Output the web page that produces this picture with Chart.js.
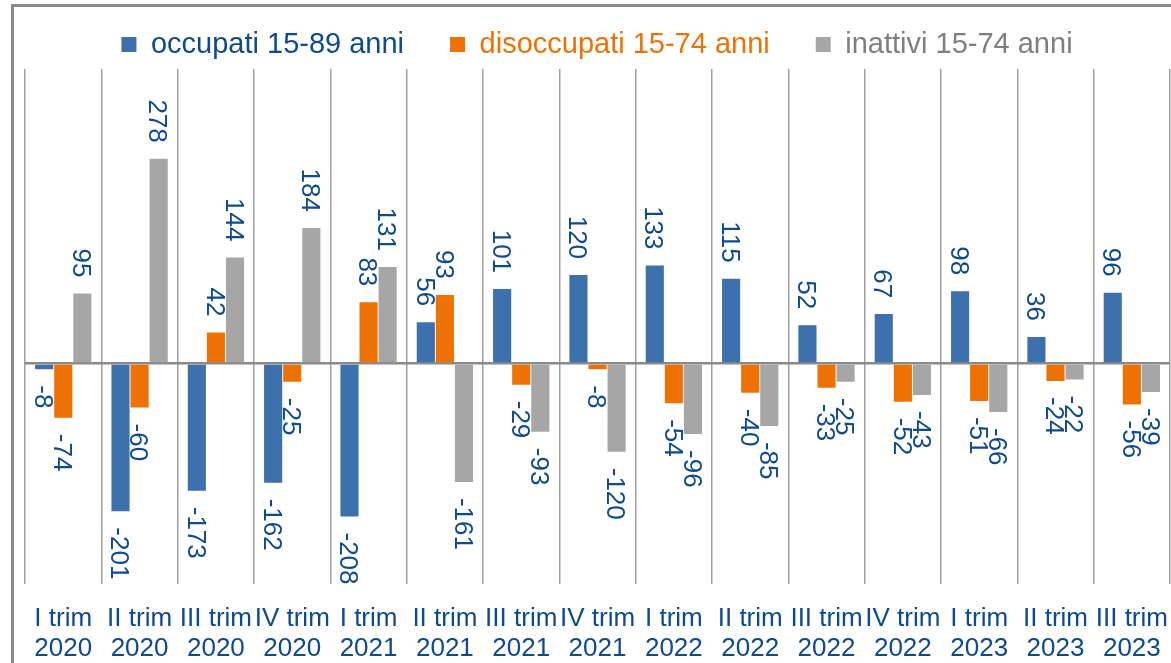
<!DOCTYPE html>
<html>
<head>
<meta charset="utf-8">
<script src="https://cdn.jsdelivr.net/npm/chart.js@4.4.1/dist/chart.umd.min.js"></script>
<style>
  html, body { margin: 0; padding: 0; background: #fff; overflow: hidden; }
  #frame {
    position: absolute; left: 11px; top: 4px;
    width: 1182px; height: 680px;
    border: 3px solid #8a8a8a; background: #fff;
  }
  #chart { display: block; }
</style>
</head>
<body>
<div id="frame"><canvas id="chart" width="1182" height="680"></canvas></div>
<script>
// Categories (quarters)
const categories = [
  ["I trim", "2020"], ["II trim", "2020"], ["III trim", "2020"], ["IV trim", "2020"],
  ["I trim", "2021"], ["II trim", "2021"], ["III trim", "2021"], ["IV trim", "2021"],
  ["I trim", "2022"], ["II trim", "2022"], ["III trim", "2022"], ["IV trim", "2022"],
  ["I trim", "2023"], ["II trim", "2023"], ["III trim", "2023"]
];

// Series values (thousands)
const occupati = [-8, -201, -173, -162, -208, 56, 101, 120, 133, 115, 52, 67, 98, 36, 96];
const disoccupati = [-74, -60, 42, -25, 83, 93, -29, -8, -54, -40, -33, -52, -51, -24, -56];
const inattivi = [95, 278, 144, 184, 131, -161, -93, -120, -96, -85, -25, -43, -66, -22, -39];

const seriesNames = ["occupati 15-89 anni", "disoccupati 15-74 anni", "inattivi 15-74 anni"];
const barColors = ["#3c71ae", "#ee7203", "#a6a6a6"];
const legendTextColors = ["#0d4a8f", "#ee7203", "#7f7f7f"];
const labelColor = "#0d4a8f";
const FONT = "'Liberation Sans', Arial, sans-serif";

// Rotated value labels above/below each bar
const valueLabels = {
  id: "valueLabels",
  afterDatasetsDraw(chart) {
    const ctx = chart.ctx;
    const fs = 26;
    const gap = 16;
    ctx.save();
    ctx.font = fs + "px " + FONT;
    ctx.fillStyle = labelColor;
    ctx.textAlign = "left";
    ctx.textBaseline = "alphabetic";
    chart.data.datasets.forEach((ds, i) => {
      const meta = chart.getDatasetMeta(i);
      meta.data.forEach((bar, j) => {
        const v = ds.data[j];
        const txt = String(v);
        const w = ctx.measureText(txt).width;
        const startY = v >= 0 ? bar.y - gap - w : bar.y + gap;
        ctx.save();
        ctx.translate(bar.x, startY);
        ctx.rotate(Math.PI / 2);
        ctx.fillText(txt, 0, fs * 0.716 / 2);
        ctx.restore();
      });
    });
    ctx.restore();
  }
};

const datasets = [occupati, disoccupati, inattivi].map((vals, i) => ({
  label: seriesNames[i],
  data: vals,
  backgroundColor: barColors[i],
  borderWidth: 0,
  barPercentage: 0.95,
  categoryPercentage: 0.75
}));

new Chart(document.getElementById("chart"), {
  type: "bar",
  data: { labels: categories, datasets: datasets },
  plugins: [valueLabels],
  options: {
    responsive: false,
    animation: false,
    events: [],
    layout: { padding: { left: 10, right: 26, top: -23, bottom: 3 } },
    scales: {
      x: {
        grid: { color: "#a0a0a0", lineWidth: 1.5, drawTicks: false, offset: true },
        border: { display: false },
        ticks: {
          color: labelColor,
          font: { family: FONT, size: 26, lineHeight: 1.15 },
          maxRotation: 0, minRotation: 0, autoSkip: false,
          padding: 20
        }
      },
      y: {
        min: -300, max: 400,
        z: 1,
        ticks: { display: false, stepSize: 100 },
        border: { display: false },
        grid: {
          drawTicks: false,
          lineWidth: 2.5,
          color: (c) => (c.tick && c.tick.value === 0 ? "#8a8a8a" : "rgba(0,0,0,0)")
        }
      }
    },
    plugins: {
      tooltip: { enabled: false },
      legend: {
        position: "top",
        labels: {
          boxWidth: 15, boxHeight: 15, padding: 46,
          font: { family: FONT, size: 29 },
          generateLabels(chart) {
            const items = Chart.defaults.plugins.legend.labels.generateLabels(chart);
            items.forEach((it, i) => {
              it.fontColor = legendTextColors[i];
              it.lineWidth = 0;
            });
            return items;
          }
        }
      }
    }
  }
});
</script>
</body>
</html>
